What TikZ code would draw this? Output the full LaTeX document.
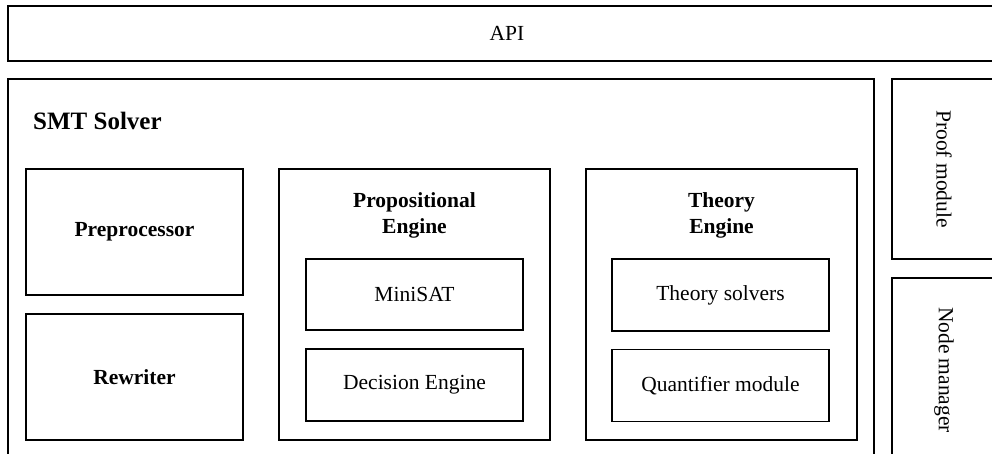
\documentclass[tikz,border=0pt]{standalone}
\usepackage{fontspec}
\setmainfont{Liberation Serif}
\usepackage{tikz}

\begin{document}
\begin{tikzpicture}[
  x=1pt, y=-1pt,
  block/.style={draw, line width=1.6pt, inner sep=0pt, align=center,
    font=\fontsize{21.5}{26}\selectfont},
  unit/.style={block, minimum width=217pt, minimum height=72pt},
  engine/.style={block, minimum width=271pt, minimum height=271pt},
  side/.style={block, minimum width=104pt},
  title/.style={inner sep=0pt, align=center,
    font=\fontsize{21.5}{26}\selectfont\bfseries}
]
\path[use as bounding box, clip] (0,0) rectangle (992,454);

\node[block, minimum width=998pt, minimum height=55pt] (api) at (507,33.5) {API};

\node[block, minimum width=866pt, minimum height=383pt] (smt) at (441,270.5) {};
\node[title, anchor=west, font=\fontsize{25}{30}\selectfont\bfseries]
  (smtname) at (33,121) {SMT Solver};

\node[unit, minimum height=126pt, font=\fontsize{21.5}{26}\selectfont\bfseries]
  (prep) at (134.5,232) {Preprocessor};
\node[unit, minimum height=126pt, font=\fontsize{21.5}{26}\selectfont\bfseries]
  (rewr) at (134.5,377) {Rewriter};

\node[engine] (prop) at (414.5,304.5) {};
\node[title] (propname) at (414.5,215) {Propositional\\Engine};
\node[unit, minimum height=71pt] (minisat) at (414.5,294.5) {MiniSAT};
\node[unit] (decision) at (414.5,385) {Decision Engine};

\node[engine] (theory) at (721.5,304.5) {};
\node[title] (theoryname) at (721.5,215) {Theory\\Engine};
\node[unit] (solvers) at (720.5,295) {Theory solvers};
\node[unit] (quant) at (720.5,385.5) {Quantifier module};

\node[side, minimum height=180pt] (proof) at (944,169) {};
\node[rotate=-90, inner sep=0pt, font=\fontsize{21.5}{26}\selectfont]
  (prooftext) at (proof.center) {Proof module};
\node[side, minimum height=184pt] (nodes) at (944,370) {};
\node[rotate=-90, inner sep=0pt, font=\fontsize{21.5}{26}\selectfont]
  (nodestext) at (nodes.center) {Node manager};
\end{tikzpicture}
\end{document}
